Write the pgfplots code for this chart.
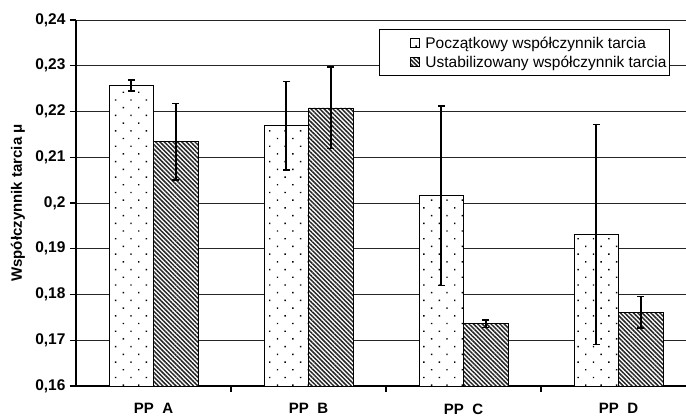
\documentclass[border=0pt]{standalone}
\usepackage{fontspec}
\setmainfont{Liberation Sans}
\usepackage{pgfplots}
\pgfplotsset{compat=1.18}
\usetikzlibrary{patterns.meta}

\pgfplotsset{
  myerr/.style={
    error bars/y dir=both, error bars/y explicit,
    error bars/error bar style={line width=1.8pt, black, solid},
    error bars/error mark options={rotate=90, mark size=3.5pt, line width=1.4pt, black},
    legend image code/.code={%
      \pgfpathrectangle{\pgfpoint{-30pt}{-5pt}}{\pgfpoint{30pt}{10pt}}\pgfusepath{discard}%
      \draw[##1, line width=0.5pt] (0pt,-4.5pt) rectangle (9pt,4.5pt);%
      \pgfpathrectangle{\pgfpoint{9pt}{-5pt}}{\pgfpoint{4pt}{10pt}}\pgfusepath{discard}},
  }
}

\begin{document}
\begin{tikzpicture}[x=1pt,y=1pt]
\path[use as bounding box] (0,0) rectangle (686,416);
\begin{axis}[
  at={(76pt,30pt)}, anchor=south west,
  scale only axis, width=610pt, height=366pt,
  xmin=0, xmax=3.935, ymin=0.16, ymax=0.24,
  axis x line*=bottom, axis y line*=left,
  axis line style={line width=1.6pt, -},
  ytick={0.16,0.17,0.18,0.19,0.2,0.21,0.22,0.23,0.24},
  ymajorgrids, grid style={line width=0.8pt, black!85},
  xtick={0.5,1.5,2.5,3.5},
  xticklabels={PP\ \ A, PP\ \ B, PP\ \ C, PP\ \ D},
  minor xtick={1,2,3},
  major x tick style={draw=none},
  tick align=outside,
  major tick length=6pt, minor tick length=6pt,
  tick style={line width=1.2pt, black},
  yticklabel style={font=\bfseries\fontsize{15.5}{18}\selectfont, xshift=-1pt,
    /pgf/number format/use comma, /pgf/number format/fixed, /pgf/number format/precision=2,
    /pgf/number format/assume math mode=true},
  xticklabel style={font=\bfseries\fontsize{15}{18}\selectfont, yshift=-8pt},
  ylabel={Współczynnik tarcia μ},
  ylabel style={font=\bfseries\fontsize{15}{18}\selectfont, at={(axis description cs:-0.0951,0.5)}, anchor=center},
  ybar=0pt, bar width=44.5pt,
  legend style={at={(0.4967,0.9746)}, anchor=north west, draw=black, line width=0.8pt, fill=white,
    font=\fontsize{15.5}{18}\selectfont, inner xsep=1pt, inner ysep=5pt, row sep=2pt},
  legend cell align=left,
]
\addplot[draw=black, line width=0.6pt, fill=white, myerr,
  postaction={pattern={Dots[distance=10.9pt, radius=1pt, angle=45]}, pattern color=black}]
  coordinates {
  (0.5,0.2257) +- (0,0.0012)
  (1.5,0.2169) +- (0,0.0097)
  (2.5,0.2016) +- (0,0.0196)
  (3.5,0.1931) +- (0,0.0240)
  };
\addplot[draw=black, line width=0.6pt, fill=white, myerr,
  postaction={pattern={Lines[angle=-45, distance=3.1pt, line width=1.5pt]}, pattern color=black!85}]
  coordinates {
  (0.5,0.2134) +- (0,0.0084)
  (1.5,0.2208) +- (0,0.0089)
  (2.5,0.1736) +- (0,0.0008)
  (3.5,0.1761) +- (0,0.0034)
  };
\legend{Początkowy współczynnik tarcia, Ustabilizowany współczynnik tarcia}
\end{axis}
\end{tikzpicture}
\end{document}
